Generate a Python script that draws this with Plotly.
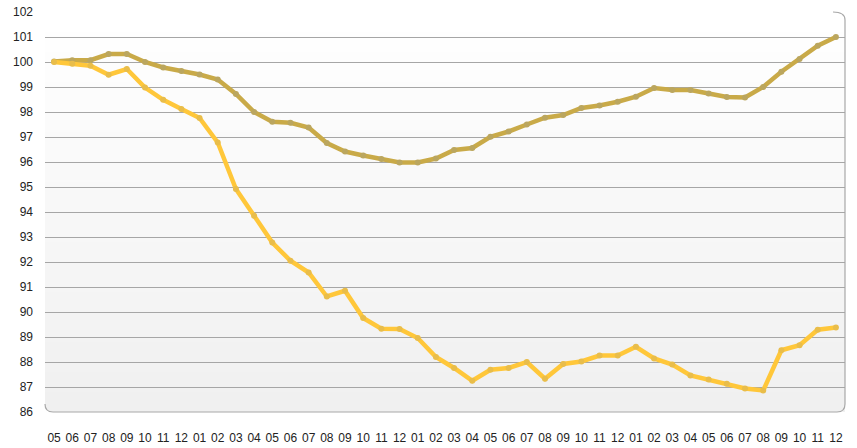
import plotly.graph_objects as go

months = ["05", "06", "07", "08", "09", "10", "11", "12",
          "01", "02", "03", "04", "05", "06", "07", "08", "09", "10", "11", "12",
          "01", "02", "03", "04", "05", "06", "07", "08", "09", "10", "11", "12",
          "01", "02", "03", "04", "05", "06", "07", "08", "09", "10", "11", "12"]

series_a = [100.02, 100.07, 100.07, 100.32, 100.32, 100.0, 99.78, 99.64,
            99.5, 99.3, 98.72, 98.0, 97.61, 97.57, 97.38, 96.76, 96.42, 96.26, 96.12, 95.98,
            95.98, 96.14, 96.48, 96.56, 97.01, 97.22, 97.5, 97.77, 97.88, 98.16, 98.26, 98.41,
            98.61, 98.96, 98.88, 98.88, 98.74, 98.6, 98.58, 99.0, 99.61, 100.12, 100.65, 101.0]

series_b = [100.0, 99.93, 99.85, 99.49, 99.72, 98.98, 98.49, 98.12,
            97.76, 96.78, 94.92, 93.85, 92.78, 92.05, 91.58, 90.62, 90.85, 89.76, 89.33, 89.32,
            88.96, 88.2, 87.76, 87.25, 87.69, 87.76, 88.0, 87.33, 87.92, 88.02, 88.26, 88.26,
            88.61, 88.14, 87.9, 87.46, 87.3, 87.13, 86.94, 86.86, 88.47, 88.67, 89.29, 89.38]

y_ticks = list(range(86, 103))
x = list(range(len(months)))

fig = go.Figure()
fig.add_trace(go.Scatter(
    x=x, y=series_a, mode="lines+markers",
    line=dict(color="#C9AA48", width=4.5),
    marker=dict(color="#BBA65E", size=6),
    showlegend=False, hoverinfo="skip"))
fig.add_trace(go.Scatter(
    x=x, y=series_b, mode="lines+markers",
    line=dict(color="#FFC73A", width=4.5),
    marker=dict(color="#E9BD4A", size=6),
    showlegend=False, hoverinfo="skip"))

shapes = []
# vertical gradient background (white top -> light gray bottom)
n = 40
for i in range(n):
    t = i / (n - 1)
    c = int(round(255 - 15 * (1 - t)))
    shapes.append(dict(type="rect", xref="paper", yref="paper",
                       x0=0, x1=1, y0=i / n, y1=(i + 1) / n,
                       fillcolor=f"rgb({c},{c},{c})", line=dict(width=0),
                       layer="below"))
rx, ry = 8 / 800, 8 / 400
# white corner masks for rounded corners
shapes.append(dict(type="path", xref="paper", yref="paper", layer="below",
                   path=f"M 0,0 L {rx},0 Q 0,0 0,{ry} Z",
                   fillcolor="white", line=dict(width=0)))
shapes.append(dict(type="path", xref="paper", yref="paper", layer="below",
                   path=f"M 1,1 L {1-rx},1 Q 1,1 1,{1-ry} Z",
                   fillcolor="white", line=dict(width=0)))
# border: right and bottom with rounded corners
shapes.append(dict(type="path", xref="paper", yref="paper", layer="below",
                   path=(f"M {1-rx*1.5},1 Q 1,1 1,{1-ry} L 1,{ry} Q 1,0 {1-rx},0 "
                         f"L {rx},0 Q 0,0 0,{ry}"),
                   line=dict(color="#a8a8a8", width=1.2)))

fig.update_layout(
    width=857, height=448,
    margin=dict(l=45, r=12, t=12, b=36, autoexpand=False),
    paper_bgcolor="white", plot_bgcolor="rgba(0,0,0,0)",
    font=dict(family="Liberation Sans, Arial, sans-serif", size=12, color="#222222"),
    shapes=shapes,
    xaxis=dict(range=[-0.5, len(months) - 0.5], tickmode="array", tickvals=x,
               ticktext=months, showgrid=False, zeroline=False, showline=False,
               ticks="", ticklabelstandoff=17, fixedrange=True, automargin=False),
    yaxis=dict(range=[86, 102], tickmode="array", tickvals=y_ticks,
               ticktext=[str(v) for v in y_ticks], showgrid=True,
               gridcolor="#a6a6a6", gridwidth=1, zeroline=False, showline=False,
               ticks="", ticklabelstandoff=11, fixedrange=True, automargin=False),
)

fig.write_html("out.html")
